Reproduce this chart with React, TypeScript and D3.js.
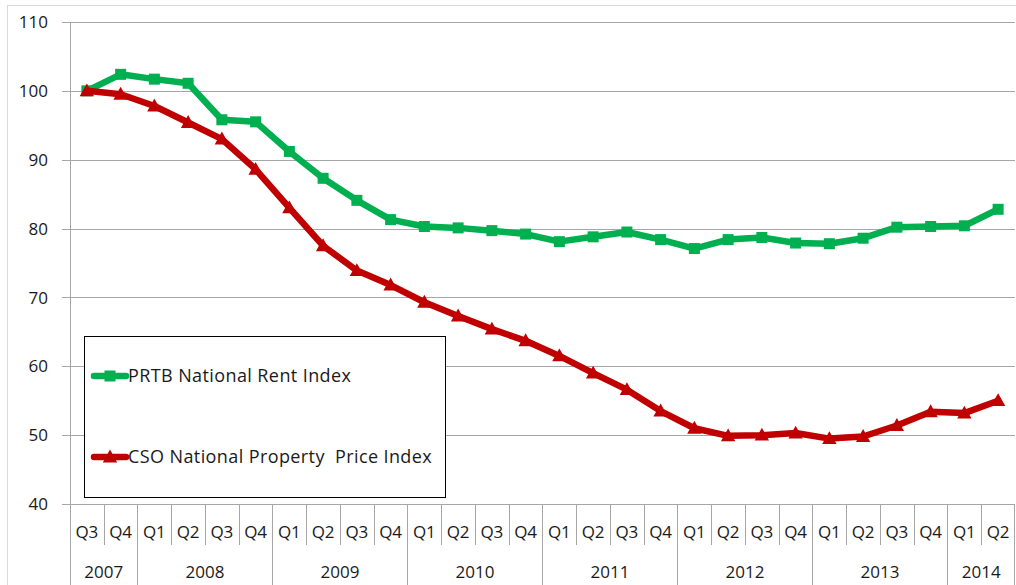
import React from "react";
import * as d3 from "d3";

const quarters = ["Q3","Q4","Q1","Q2","Q3","Q4","Q1","Q2","Q3","Q4","Q1","Q2","Q3","Q4","Q1","Q2","Q3","Q4","Q1","Q2","Q3","Q4","Q1","Q2","Q3","Q4","Q1","Q2"];
const years = ["2007","2008","2009","2010","2011","2012","2013","2014"];
const yearCounts = [2,4,4,4,4,4,4,2];
const rentIndex = [100.0,102.4,101.7,101.1,95.8,95.5,91.2,87.3,84.1,81.3,80.3,80.1,79.7,79.2,78.1,78.8,79.5,78.4,77.1,78.4,78.7,77.9,77.8,78.6,80.2,80.3,80.4,82.8];
const priceIndex = [100.0,99.5,97.8,95.4,93.0,88.6,83.0,77.5,73.9,71.8,69.3,67.3,65.4,63.7,61.5,59.0,56.6,53.5,51.0,49.9,50.0,50.3,49.5,49.8,51.4,53.4,53.2,55.0];
const yTicks = [40,50,60,70,80,90,100,110];
const seriesNames = ["PRTB National Rent Index","CSO National Property  Price Index"];

const W = 1016, H = 585;
const left = 70, right = 1015, top = 22, bottom = 504;
const GREEN = "#00B050", RED = "#C00000";
const FONT = "'Open Sans', sans-serif";
const GRID = "#a6a6a6";

export default function App() {
  const idx = quarters.map((_, i) => String(i));
  const x = d3.scaleBand<string>().domain(idx).range([left, right]);
  const y = d3.scaleLinear().domain([40, 110]).range([bottom, top]);
  const cx = (i: number) => (x(String(i)) as number) + x.bandwidth() / 2;
  const line = d3.line<number>().x((_, i) => cx(i)).y(d => y(d));

  const boundaries: number[] = [0];
  yearCounts.reduce((acc, c) => { boundaries.push(acc + c); return acc + c; }, 0);
  const bx = (k: number) => left + k * x.bandwidth();

  const tri = (px: number, py: number, s: number) =>
    `M${px},${py - s * 0.62}L${px + s * 0.6},${py + s * 0.45}L${px - s * 0.6},${py + s * 0.45}Z`;

  return (
    <svg width={W} height={H} style={{ position: "absolute", left: 0, top: 0, background: "#fff" }}>
      <rect x={7.5} y={5.5} width={W + 20} height={H + 20} fill="#fff" stroke="#d9d9d9" strokeWidth={1} />
      {yTicks.map(t => (
        <g key={t}>
          <line x1={left - 8} x2={right} y1={Math.round(y(t)) + 0.5} y2={Math.round(y(t)) + 0.5} stroke={GRID} strokeWidth={1} />
          <text x={48} y={y(t)} dy="0.36em" textAnchor="end" fontFamily={FONT} fontSize={17} fill="#1a1a1a">{t}</text>
        </g>
      ))}
      <line x1={left + 0.5} x2={left + 0.5} y1={top} y2={H} stroke={GRID} strokeWidth={1} />
      {quarters.map((q, i) => (
        <g key={"q" + i}>
          {i > 0 && !boundaries.includes(i) && (
            <line x1={Math.round(bx(i)) + 0.5} x2={Math.round(bx(i)) + 0.5} y1={bottom} y2={545} stroke={GRID} strokeWidth={1} />
          )}
          <text x={cx(i)} y={538} textAnchor="middle" fontFamily={FONT} fontSize={17} fill="#1a1a1a">{q}</text>
        </g>
      ))}
      {boundaries.slice(1).map((k, j) => (
        <line key={"b" + j} x1={Math.round(bx(k)) - 0.5} x2={Math.round(bx(k)) - 0.5} y1={bottom} y2={H} stroke={GRID} strokeWidth={1} />
      ))}
      {years.map((yr, j) => {
        const mid = (bx(boundaries[j]) + bx(boundaries[j + 1])) / 2;
        return <text key={yr} x={mid} y={578} textAnchor="middle" fontFamily={FONT} fontSize={17} fill="#1a1a1a">{yr}</text>;
      })}

      <path d={line(rentIndex) || ""} fill="none" stroke={GREEN} strokeWidth={6.5} strokeLinejoin="round" />
      {rentIndex.map((v, i) => (
        <rect key={"gm" + i} x={cx(i) - 5.5} y={y(v) - 5.5} width={11} height={11} fill={GREEN} />
      ))}
      <path d={line(priceIndex) || ""} fill="none" stroke={RED} strokeWidth={6.5} strokeLinejoin="round" />
      {priceIndex.map((v, i) => (
        <path key={"rm" + i} d={tri(cx(i), y(v), 12)} fill={RED} />
      ))}

      <rect x={84.5} y={336.5} width={361} height={161} fill="#fff" stroke="#000" strokeWidth={1} />
      <line x1={94} x2={126} y1={376} y2={376} stroke={GREEN} strokeWidth={6.5} strokeLinecap="round" />
      <rect x={104.5} y={370.5} width={11} height={11} fill={GREEN} />
      <text x={128} y={382} fontFamily={FONT} fontSize={18} letterSpacing={0.4} fill="#1a1a1a">{seriesNames[0]}</text>
      <line x1={94} x2={126} y1={457} y2={457} stroke={RED} strokeWidth={6.5} strokeLinecap="round" />
      <path d={tri(110, 457, 12)} fill={RED} />
      <text x={128} y={463} fontFamily={FONT} fontSize={18} letterSpacing={0.4} fill="#1a1a1a" style={{ whiteSpace: "pre" }}>{seriesNames[1]}</text>
    </svg>
  );
}
